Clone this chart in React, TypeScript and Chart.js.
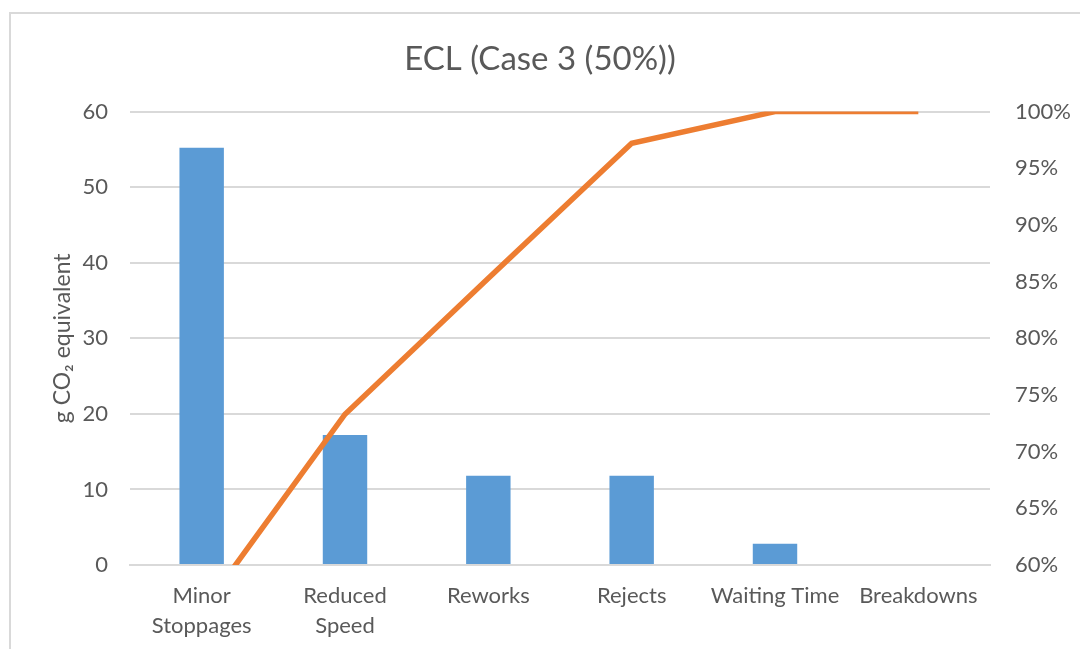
import React, { useEffect, useRef } from "react";
import { Chart, registerables } from "chart.js";

Chart.register(...registerables);

const categories: (string | string[])[] = [
  ["Minor", "Stoppages"],
  ["Reduced", "Speed"],
  "Reworks",
  "Rejects",
  "Waiting Time",
  "Breakdowns",
];
const emissions = [55.2, 17.2, 11.8, 11.8, 2.8, 0];
const cumulativeShare = [0.559, 0.733, 0.853, 0.972, 1.0, 1.0];
const titleText = "ECL (Case 3 (50%))";
const yTitle = "g CO\u2082 equivalent";

const FONT = "Lato, 'Open Sans', sans-serif";
const TEXT = "#595959";

export default function App() {
  const ref = useRef<HTMLCanvasElement | null>(null);
  useEffect(() => {
    if (!ref.current) return;
    const chart = new Chart(ref.current, {
      type: "bar",
      data: {
        labels: categories as any,
        datasets: [
          {
            type: "line",
            label: "Cumulative",
            data: cumulativeShare,
            yAxisID: "y1",
            borderColor: "#ED7D31",
            backgroundColor: "#ED7D31",
            borderWidth: 5.5,
            pointRadius: 0,
            tension: 0,
            order: 0,
          } as any,
          {
            type: "bar",
            label: "Emissions",
            data: emissions,
            yAxisID: "y",
            backgroundColor: "#5B9BD5",
            categoryPercentage: 1,
            barPercentage: 0.31,
            order: 1,
          },
        ],
      },
      options: {
        animation: false,
        responsive: true,
        maintainAspectRatio: false,
        layout: { padding: { left: 0, right: 0, top: 0, bottom: 0 } },
        plugins: {
          legend: { display: false },
          tooltip: { enabled: false },
          title: {
            display: true,
            text: titleText,
            color: TEXT,
            font: { family: FONT, size: 33, weight: "normal", lineHeight: 1.2 },
            padding: { top: 40, bottom: 32 },
          },
        },
        scales: {
          x: {
            grid: { display: false },
            border: { display: true, color: "#d9d9d9", width: 2 },
            ticks: {
              color: TEXT,
              font: { family: FONT, size: 22, lineHeight: 1.36 },
              maxRotation: 0,
              minRotation: 0,
              autoSkip: false,
              padding: 8,
            },
            afterFit: (s: any) => {
              s.height = 84;
            },
          },
          y: {
            position: "left",
            min: 0,
            max: 60,
            ticks: {
              stepSize: 10,
              color: TEXT,
              font: { family: FONT, size: 22 },
              padding: 22,
            },
            grid: { color: "#d9d9d9", lineWidth: 2, drawTicks: false },
            border: { display: false },
            title: {
              display: true,
              text: yTitle,
              color: TEXT,
              font: { family: FONT, size: 23 },
              padding: { top: 49, bottom: 0 },
            },
            afterFit: (s: any) => {
              s.width = 130;
            },
          },
          y1: {
            position: "right",
            min: 0.6,
            max: 1.0,
            ticks: {
              stepSize: 0.05,
              color: TEXT,
              font: { family: FONT, size: 22 },
              padding: 25,
              callback: (v: any) => Math.round(Number(v) * 100) + "%",
            },
            grid: { display: false, drawTicks: false },
            border: { display: false },
            afterFit: (s: any) => {
              s.width = 90;
            },
          },
        },
      },
    });
    return () => chart.destroy();
  }, []);

  return (
    <div
      style={{
        position: "fixed",
        left: 0,
        top: 0,
        width: 1080,
        height: 649,
        background: "#fff",
        overflow: "hidden",
      }}
    >
      <div
        style={{
          position: "absolute",
          left: 9,
          top: 12,
          width: 1200,
          height: 800,
          borderTop: "2px solid #d9d9d9",
          borderLeft: "2px solid #d9d9d9",
          boxSizing: "border-box",
        }}
      />
      <div style={{ position: "absolute", left: 0, top: 0, width: 1080, height: 649 }}>
        <canvas ref={ref} />
      </div>
    </div>
  );
}
